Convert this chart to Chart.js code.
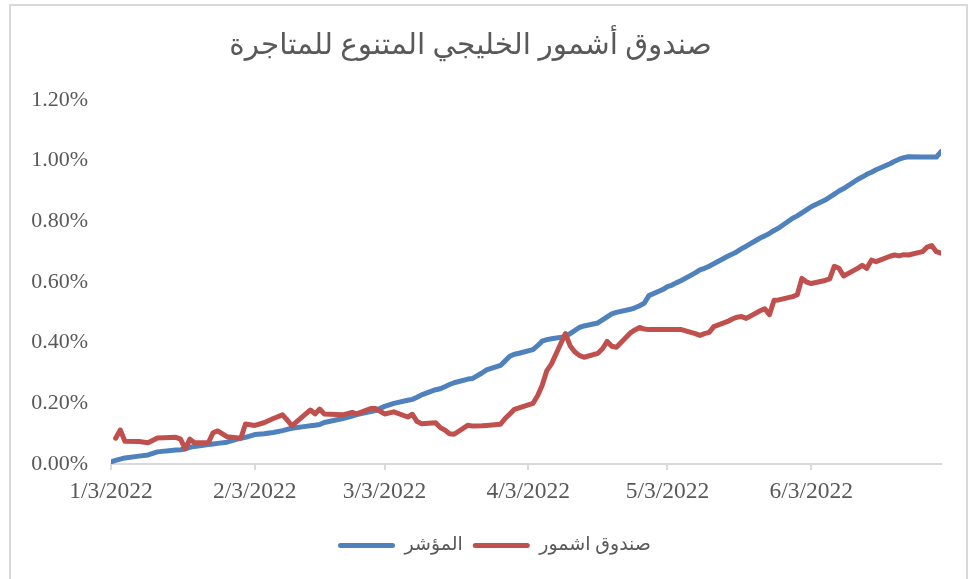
<!DOCTYPE html>
<html>
<head>
<meta charset="utf-8">
<script src="https://cdn.jsdelivr.net/npm/chart.js@4.4.1/dist/chart.umd.min.js"></script>
<style>
  html, body { margin: 0; padding: 0; background: #ffffff; overflow: hidden; }
  #wrap { position: relative; width: 972px; height: 579px; }
  #frame {
    position: absolute; left: 9px; top: 4px; width: 959px; height: 620px;
    border: 2px solid #d9d9d9; box-sizing: border-box;
  }
  canvas { position: absolute; left: 0; top: 0; }
</style>
</head>
<body>
<div id="wrap">
  <div id="frame"></div>
  <canvas id="chart" width="972" height="579"></canvas>
</div>
<script>
/* ── Data (percent values, days counted from 1/3/2022) ─────────────────── */

var chartTitle  = 'صندوق أشمور الخليجي المتنوع للمتاجرة';
var fundLabel   = 'صندوق اشمور';
var indexLabel  = 'المؤشر';

var tickDays    = [0, 31, 59, 90, 120, 151];
var tickLabels  = ['1/3/2022', '2/3/2022', '3/3/2022', '4/3/2022', '5/3/2022', '6/3/2022'];

var days = [
  0, 1, 2, 3, 6, 8, 10, 14, 15, 16, 17, 18, 21, 22, 23, 25, 28, 29, 31, 33,
  35, 37, 38, 39, 42, 43, 44, 45, 46, 50, 52, 53, 56, 57, 59, 61, 64, 65, 66, 67,
  70, 71, 72, 73, 74, 77, 78, 80, 81, 84, 85, 86, 87, 88, 91, 92, 93, 94, 95, 98,
  99, 100, 101, 102, 105, 106, 107, 108, 109, 112, 113, 114, 115, 116, 119, 120, 121, 122, 123, 126,
  127, 128, 129, 130, 133, 134, 135, 136, 137, 140, 141, 142, 143, 144, 147, 148, 149, 150, 151, 154,
  155, 156, 157, 158, 161, 162, 163, 164, 165, 168, 169, 170, 171, 172, 175, 176, 177, 178, 179
];

var fundValues = [
  null, 0.085, 0.112, 0.075, 0.074, 0.070, 0.086, 0.088, 0.082, 0.050, 0.082, 0.070, 0.070, 0.103, 0.109, 0.090, 0.085, 0.132, 0.127, 0.136,
  0.150, 0.162, 0.145, 0.126, 0.165, 0.178, 0.165, 0.181, 0.165, 0.162, 0.170, 0.165, 0.183, 0.183, 0.165, 0.172, 0.155, 0.164, 0.140, 0.133,
  0.136, 0.120, 0.112, 0.100, 0.098, 0.128, 0.125, 0.126, 0.127, 0.131, 0.150, 0.165, 0.180, 0.185, 0.200, 0.225, 0.260, 0.308, 0.330, 0.430,
  0.390, 0.370, 0.358, 0.352, 0.365, 0.380, 0.404, 0.388, 0.385, 0.432, 0.442, 0.450, 0.445, 0.443, 0.443, 0.443, 0.443, 0.443, 0.443, 0.430,
  0.424, 0.430, 0.434, 0.453, 0.470, 0.478, 0.484, 0.486, 0.480, 0.505, 0.512, 0.492, 0.540, 0.541, 0.552, 0.558, 0.612, 0.600, 0.595, 0.605,
  0.610, 0.652, 0.645, 0.620, 0.645, 0.655, 0.645, 0.672, 0.667, 0.685, 0.689, 0.686, 0.690, 0.689, 0.700, 0.715, 0.720, 0.700, 0.695
];

var indexValues = [
  0.007, 0.012, 0.016, 0.020, 0.026, 0.030, 0.040, 0.046, 0.047, 0.050, 0.055, 0.058, 0.064, 0.066, 0.068, 0.072, 0.085, 0.088, 0.097, 0.100,
  0.104, 0.110, 0.114, 0.118, 0.124, 0.126, 0.128, 0.130, 0.137, 0.150, 0.158, 0.163, 0.173, 0.176, 0.190, 0.200, 0.210, 0.213, 0.220, 0.228,
  0.245, 0.248, 0.255, 0.262, 0.268, 0.280, 0.282, 0.300, 0.310, 0.325, 0.340, 0.355, 0.362, 0.365, 0.377, 0.390, 0.405, 0.410, 0.413, 0.420,
  0.430, 0.440, 0.450, 0.455, 0.465, 0.475, 0.485, 0.495, 0.500, 0.510, 0.515, 0.522, 0.530, 0.555, 0.575, 0.585, 0.590, 0.598, 0.605, 0.630,
  0.640, 0.645, 0.652, 0.660, 0.685, 0.692, 0.700, 0.710, 0.718, 0.745, 0.752, 0.760, 0.770, 0.778, 0.810, 0.818, 0.828, 0.838, 0.848, 0.870,
  0.880, 0.890, 0.900, 0.908, 0.938, 0.946, 0.955, 0.962, 0.970, 0.990, 0.998, 1.005, 1.010, 1.013, 1.012, 1.012, 1.012, 1.012, 1.030
];

/* ── Style ─────────────────────────────────────────────────────────────── */

var BLUE   = '#4f81bd';
var RED    = '#c0504d';
var TEXT   = '#595959';
var AXIS   = '#d9d9d9';
var SERIF  = "'Liberation Serif', 'DejaVu Sans', serif";

function toPoints(values) {
  return days.map(function (d, i) { return { x: d, y: values[i] }; });
}

// Nudge the legend right so it sits where the original one does
var legendShift = {
  id: 'legendShift',
  afterLayout: function (chart) {
    var lg = chart.legend;
    if (!lg) return;
    lg.left += 24;
    lg.right += 24;
  }
};

var ctx = document.getElementById('chart');

new Chart(ctx, {
  type: 'line',
  data: {
    datasets: [
      {
        label: fundLabel,
        data: toPoints(fundValues),
        borderColor: RED,
        backgroundColor: RED,
        borderWidth: 5,
        pointRadius: 0,
        tension: 0,
        spanGaps: true,
        borderJoinStyle: 'round',
        borderCapStyle: 'round'
      },
      {
        label: indexLabel,
        data: toPoints(indexValues),
        borderColor: BLUE,
        backgroundColor: BLUE,
        borderWidth: 5,
        pointRadius: 0,
        tension: 0,
        borderJoinStyle: 'round',
        borderCapStyle: 'round'
      }
    ]
  },
  options: {
    responsive: false,
    animation: false,
    layout: { padding: { left: 0, right: 31, top: 0, bottom: 14 } },
    plugins: {
      title: {
        display: true,
        text: chartTitle,
        color: TEXT,
        font: { family: SERIF, size: 29.5, weight: 'normal' },
        padding: { top: 29, bottom: 35.6 }
      },
      legend: {
        position: 'bottom',
        labels: {
          color: TEXT,
          font: { family: SERIF, size: 19 },
          boxWidth: 57,
          boxHeight: 5,
          padding: 10,
          useBorderRadius: true,
          borderRadius: 2.5,
          generateLabels: function (chart) {
            var ds = chart.data.datasets;
            // legend reads المؤشر first, then the fund
            return [1, 0].map(function (i) {
              return {
                text: ds[i].label,
                fillStyle: ds[i].borderColor,
                strokeStyle: ds[i].borderColor,
                lineWidth: 0,
                fontColor: TEXT,
                borderRadius: 2.5,
                datasetIndex: i,
                hidden: false
              };
            });
          }
        }
      },
      tooltip: { enabled: false }
    },
    scales: {
      x: {
        type: 'linear',
        min: 0,
        max: 179,
        afterBuildTicks: function (scale) {
          scale.ticks = tickDays.map(function (v) { return { value: v }; });
        },
        afterFit: function (scale) { scale.height = 62; },
        ticks: {
          color: TEXT,
          font: { family: SERIF, size: 23.5 },
          padding: 8,
          maxRotation: 0,
          autoSkip: false,
          callback: function (value) {
            var i = tickDays.indexOf(value);
            return i >= 0 ? tickLabels[i] : '';
          }
        },
        grid: {
          drawOnChartArea: false,
          drawTicks: true,
          tickLength: 6,
          color: AXIS,
          lineWidth: 2
        },
        border: { display: true, color: AXIS, width: 2 }
      },
      y: {
        min: 0,
        max: 1.2,
        afterFit: function (scale) { scale.width = 111; },
        ticks: {
          stepSize: 0.2,
          color: TEXT,
          font: { family: SERIF, size: 22 },
          padding: 23,
          callback: function (v) { return v.toFixed(2) + '%'; }
        },
        grid: { display: false, drawTicks: false },
        border: { display: false }
      }
    }
  },
  plugins: [legendShift]
});
</script>
</body>
</html>
